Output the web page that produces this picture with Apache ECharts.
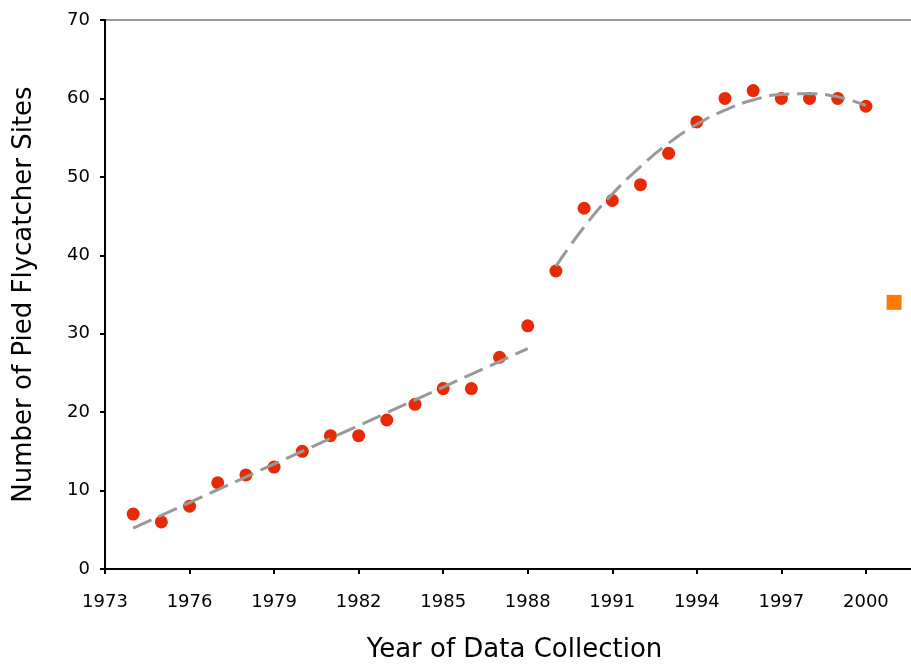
<!DOCTYPE html>
<html>
<head>
<meta charset="utf-8">
<script src="https://cdn.jsdelivr.net/npm/echarts@6/dist/echarts.min.js"></script>
<style>
  html, body { margin: 0; padding: 0; background: #fff; }
  #chart { width: 911px; height: 668px; }
</style>
</head>
<body>
<div id="chart"></div>
<script>
// Pied flycatcher nest-site counts by year
const years = [1974, 1975, 1976, 1977, 1978, 1979, 1980, 1981, 1982, 1983, 1984, 1985, 1986, 1987,
               1988, 1989, 1990, 1991, 1992, 1993, 1994, 1995, 1996, 1997, 1998, 1999, 2000];
const sites = [7, 6, 8, 11, 12, 13, 15, 17, 17, 19, 21, 23, 23, 27,
               31, 38, 46, 47, 49, 53, 57, 60, 61, 60, 60, 60, 59];

// Separate observation for 2001
const extraYear = [2001];
const extraSites = [34];

// Trend for the early period (straight fit)
const trendEarlyYears = [1974, 1988];
const trendEarlyValues = [5.2, 28.1];

// Trend for the later period (curved fit)
const trendLateYears = [1989, 1990, 1991, 1992, 1993, 1994, 1995, 1996, 1997, 1998, 1999, 2000];
const trendLateValues = [38.6, 43.6, 47.8, 51.3, 54.3, 56.7, 58.5, 59.8, 60.5, 60.6, 60.2, 59.1];

const xTickLabels = ['1973', '1976', '1979', '1982', '1985', '1988', '1991', '1994', '1997', '2000'];

// x range: the plot is cut off at the right edge, part-way into 2001
const X_MIN = 1973;
const X_MAX = 2001.6;

const FONT = '"DejaVu Sans", "Lucida Grande", sans-serif';

const pair = (xs, ys) => xs.map((x, i) => [x, ys[i]]);

const chart = echarts.init(document.getElementById('chart'), null, { renderer: 'canvas' });

chart.setOption({
  animation: false,
  backgroundColor: '#ffffff',
  grid: { left: 105, top: 20, right: 0, bottom: 99, containLabel: false },
  xAxis: [
    {
      type: 'value',
      min: X_MIN,
      max: X_MAX,
      interval: 3,
      name: 'Year of Data Collection',
      nameLocation: 'middle',
      nameGap: 68,
      nameTextStyle: { fontFamily: FONT, fontSize: 26, color: '#000', padding: [0, 0, 0, 13] },
      axisLine: { show: true, onZero: false, lineStyle: { color: '#000', width: 2 } },
      axisTick: { show: true, inside: false, length: 5, lineStyle: { color: '#000', width: 2 } },
      axisLabel: {
        margin: 24,
        fontFamily: FONT,
        fontSize: 18,
        color: '#000',
        showMaxLabel: false,
        formatter: v => (xTickLabels.indexOf(String(v)) >= 0 ? String(v) : '')
      },
      splitLine: { show: false }
    },
    {
      // thin grey border along the top of the plot
      type: 'value',
      position: 'top',
      min: X_MIN,
      max: X_MAX,
      axisLine: { show: true, onZero: false, lineStyle: { color: '#999', width: 2 } },
      axisTick: { show: false },
      axisLabel: { show: false },
      splitLine: { show: false }
    }
  ],
  yAxis: {
    type: 'value',
    min: 0,
    max: 70,
    interval: 10,
    name: 'Number of Pied Flycatcher Sites',
    nameLocation: 'middle',
    nameGap: 68,
    nameTextStyle: { fontFamily: FONT, fontSize: 26, color: '#000' },
    axisLine: { show: true, onZero: false, lineStyle: { color: '#000', width: 2 } },
    axisTick: { show: true, inside: false, length: 5, lineStyle: { color: '#000', width: 2 } },
    axisLabel: { margin: 15, fontFamily: FONT, fontSize: 18, color: '#000' },
    splitLine: { show: false },
    z: 3
  },
  series: [
    {
      type: 'scatter',
      data: pair(years, sites),
      symbol: 'circle',
      symbolSize: 13,
      itemStyle: { color: '#e62a05', opacity: 1 },
      z: 2
    },
    {
      type: 'scatter',
      data: pair(extraYear, extraSites),
      symbol: 'rect',
      symbolSize: 15,
      itemStyle: { color: '#ff7c00', opacity: 1 },
      z: 2
    },
    {
      type: 'line',
      data: pair(trendEarlyYears, trendEarlyValues),
      showSymbol: false,
      lineStyle: { color: '#999999', width: 3, type: [20, 8], cap: 'butt' },
      z: 3
    },
    {
      type: 'line',
      data: pair(trendLateYears, trendLateValues),
      showSymbol: false,
      smooth: true,
      lineStyle: { color: '#999999', width: 3, type: [20, 8], cap: 'butt' },
      z: 3
    }
  ]
});
</script>
</body>
</html>
